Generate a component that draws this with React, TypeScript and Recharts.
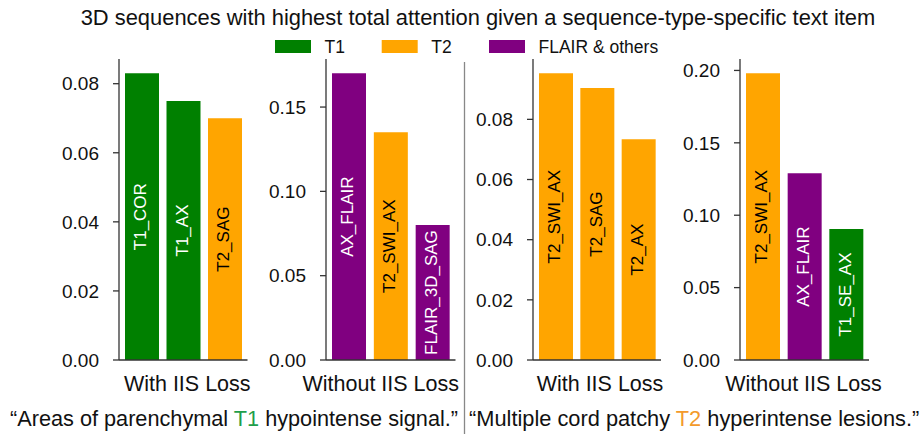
import React from 'react'
import { BarChart, Bar, XAxis, YAxis, Cell, LabelList, Label } from 'recharts'

// colours per sequence type
const typeColors: Record<string, string> = { T1: '#008000', T2: '#ffa500', FLAIR: '#800080' }
const typeTextColors: Record<string, string> = { T1: '#ffffff', T2: '#000000', FLAIR: '#ffffff' }

const legendKeys = ['T1', 'T2', 'FLAIR']
const legendLabels = ['T1', 'T2', 'FLAIR & others']

const xLabels = ['With IIS Loss', 'Without IIS Loss', 'With IIS Loss', 'Without IIS Loss']

// T1 item, with IIS loss
const names1 = ['T1_COR', 'T1_AX', 'T2_SAG']
const values1 = [0.083, 0.075, 0.07]
const types1 = ['T1', 'T1', 'T2']
const ticks1 = [0, 0.02, 0.04, 0.06, 0.08]

// T1 item, without IIS loss
const names2 = ['AX_FLAIR', 'T2_SWI_AX', 'FLAIR_3D_SAG']
const values2 = [0.17, 0.135, 0.08]
const types2 = ['FLAIR', 'T2', 'FLAIR']
const ticks2 = [0, 0.05, 0.1, 0.15]

// T2 item, with IIS loss
const names3 = ['T2_SWI_AX', 'T2_SAG', 'T2_AX']
const values3 = [0.0953, 0.0904, 0.0734]
const types3 = ['T2', 'T2', 'T2']
const ticks3 = [0, 0.02, 0.04, 0.06, 0.08]

// T2 item, without IIS loss
const names4 = ['T2_SWI_AX', 'AX_FLAIR', 'T1_SE_AX']
const values4 = [0.198, 0.129, 0.0905]
const types4 = ['T2', 'FLAIR', 'T1']
const ticks4 = [0, 0.05, 0.1, 0.15, 0.2]

const FONT = '"Liberation Sans", Arial, Helvetica, sans-serif'
const AXIS = '#333333'

type PanelProps = {
  names: string[]
  values: number[]
  types: string[]
  ticks: number[]
  plotLeft: number
  plotRight: number
  xLabel: string
  labelDx: number
}

const Panel = ({ names, values, types, ticks, plotLeft, plotRight, xLabel, labelDx }: PanelProps) => {
  const data = names.map((n, i) => ({ name: n, value: values[i], type: types[i] }))
  const yMax = Math.max(...values) * 1.05
  const axisW = 70
  const rightPad = 40
  const width = plotRight - plotLeft + axisW + rightPad

  const barText = (props: any) => {
    const { x, y, width: w, height: h, value, index } = props
    const cx = Number(x) + Number(w) / 2 - 1
    const cy = Number(y) + Number(h) / 2
    return (
      <text
        x={cx}
        y={cy}
        transform={`rotate(-90 ${cx} ${cy})`}
        textAnchor="middle"
        dominantBaseline="central"
        fontSize={17}
        fontFamily={FONT}
        fill={typeTextColors[types[index]]}
      >
        {value}
      </text>
    )
  }

  const axisLabel = (props: any) => {
    const vb = props.viewBox || {}
    return (
      <text
        x={vb.x + vb.width / 2 + labelDx}
        y={vb.y + 31}
        textAnchor="middle"
        fontSize={21.5}
        fontFamily={FONT}
        fill="#111"
      >
        {xLabel}
      </text>
    )
  }

  return (
    <div style={{ position: 'absolute', left: plotLeft - axisW, top: 0 }}>
      <BarChart
        width={width}
        height={434}
        data={data}
        margin={{ top: 59, right: rightPad, bottom: 34, left: 0 }}
        barSize={34}
      >
        <XAxis
          dataKey="name"
          tick={false}
          tickLine={false}
          height={40}
          padding={{ left: 2, right: 2 }}
          axisLine={{ stroke: AXIS, strokeWidth: 1.3 }}
        >
          <Label content={axisLabel} />
        </XAxis>
        <YAxis
          width={axisW}
          domain={[0, yMax]}
          ticks={ticks}
          tickSize={6}
          tickMargin={14}
          tickFormatter={(v: number) => v.toFixed(2)}
          tick={{ fontSize: 19, fontFamily: FONT, fill: '#111' }}
          axisLine={{ stroke: AXIS, strokeWidth: 1.3 }}
          tickLine={{ stroke: AXIS, strokeWidth: 1.3 }}
          allowDataOverflow
        />
        <Bar dataKey="value" isAnimationActive={false}>
          {data.map((d, i) => (
            <Cell key={i} fill={typeColors[d.type]} />
          ))}
          <LabelList dataKey="name" content={barText} />
        </Bar>
      </BarChart>
    </div>
  )
}

const App: React.FC = () => {
  const legendX = [275, 381.7, 489]
  return (
    <div style={{ position: 'absolute', left: 0, top: 0, width: 924, height: 434, background: '#fff', fontFamily: FONT, overflow: 'hidden' }}>
      <Panel names={names1} values={values1} types={types1} ticks={ticks1} plotLeft={118.5} plotRight={247} xLabel={xLabels[0]} labelDx={4} />
      <Panel names={names2} values={values2} types={types2} ticks={ticks2} plotLeft={325.5} plotRight={455} xLabel={xLabels[1]} labelDx={-10} />
      <Panel names={names3} values={values3} types={types3} ticks={ticks3} plotLeft={533} plotRight={661} xLabel={xLabels[2]} labelDx={3} />
      <Panel names={names4} values={values4} types={types4} ticks={ticks4} plotLeft={740} plotRight={869} xLabel={xLabels[3]} labelDx={-1} />

      <svg width={924} height={434} style={{ position: 'absolute', left: 0, top: 0, pointerEvents: 'none' }}>
        <text x={478} y={25} textAnchor="middle" fontSize={21.9} fontFamily={FONT} fill="#111">
          3D sequences with highest total attention given a sequence-type-specific text item
        </text>
        {legendKeys.map((k, i) => (
          <g key={k}>
            <rect x={legendX[i]} y={40} width={36} height={13} fill={typeColors[k]} />
            <text x={legendX[i] + 49.5} y={53} fontSize={17.5} fontFamily={FONT} fill="#111">
              {legendLabels[i]}
            </text>
          </g>
        ))}
        <line x1={464.5} y1={62} x2={464.5} y2={434} stroke="#888" strokeWidth={1.3} />
        <text x={10} y={426} fontSize={21.7} fontFamily={FONT} fill="#111">
          “Areas of parenchymal <tspan fill="#1f9e4a">T1</tspan> hypointense signal.”
        </text>
        <text x={469} y={426} fontSize={21.8} fontFamily={FONT} fill="#111">
          “Multiple cord patchy <tspan fill="#f39a2b">T2</tspan> hyperintense lesions.”
        </text>
      </svg>
    </div>
  )
}

export default App
